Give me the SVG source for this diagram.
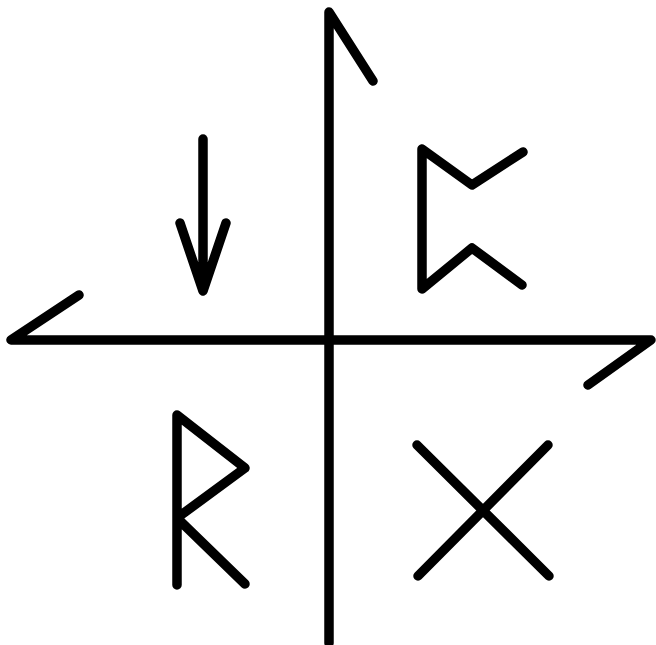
<svg xmlns="http://www.w3.org/2000/svg" width="656" height="645" viewBox="0 0 656 645">
<style>
.s{fill:none;stroke:#000;stroke-width:9.5;stroke-linecap:round;stroke-linejoin:round}
</style>
<rect width="656" height="645" fill="#fff"/>
<g id="axes">
<polyline class="s" points="329,643 329,12 373,81"/>
<polyline class="s" points="79,295 11,340 651,340 588,385"/>
</g>
<g id="arrow">
<line class="s" x1="203" y1="139" x2="203" y2="285"/>
<polyline class="s" points="180,223 203,291 226,223"/>
<polygon points="193,262 213,262 203,292" fill="#000"/>
</g>
<g id="perthro">
<polyline class="s" points="523,152 472,185 422,149 422,289 472,248 522,285"/>
</g>
<g id="raidho">
<polyline class="s" points="177,585 177,415 245,468 177,518 245,584"/>
</g>
<g id="gebo">
<line class="s" x1="417" y1="445" x2="549" y2="576"/>
<line class="s" x1="548" y1="445" x2="418" y2="576"/>
</g>
</svg>
